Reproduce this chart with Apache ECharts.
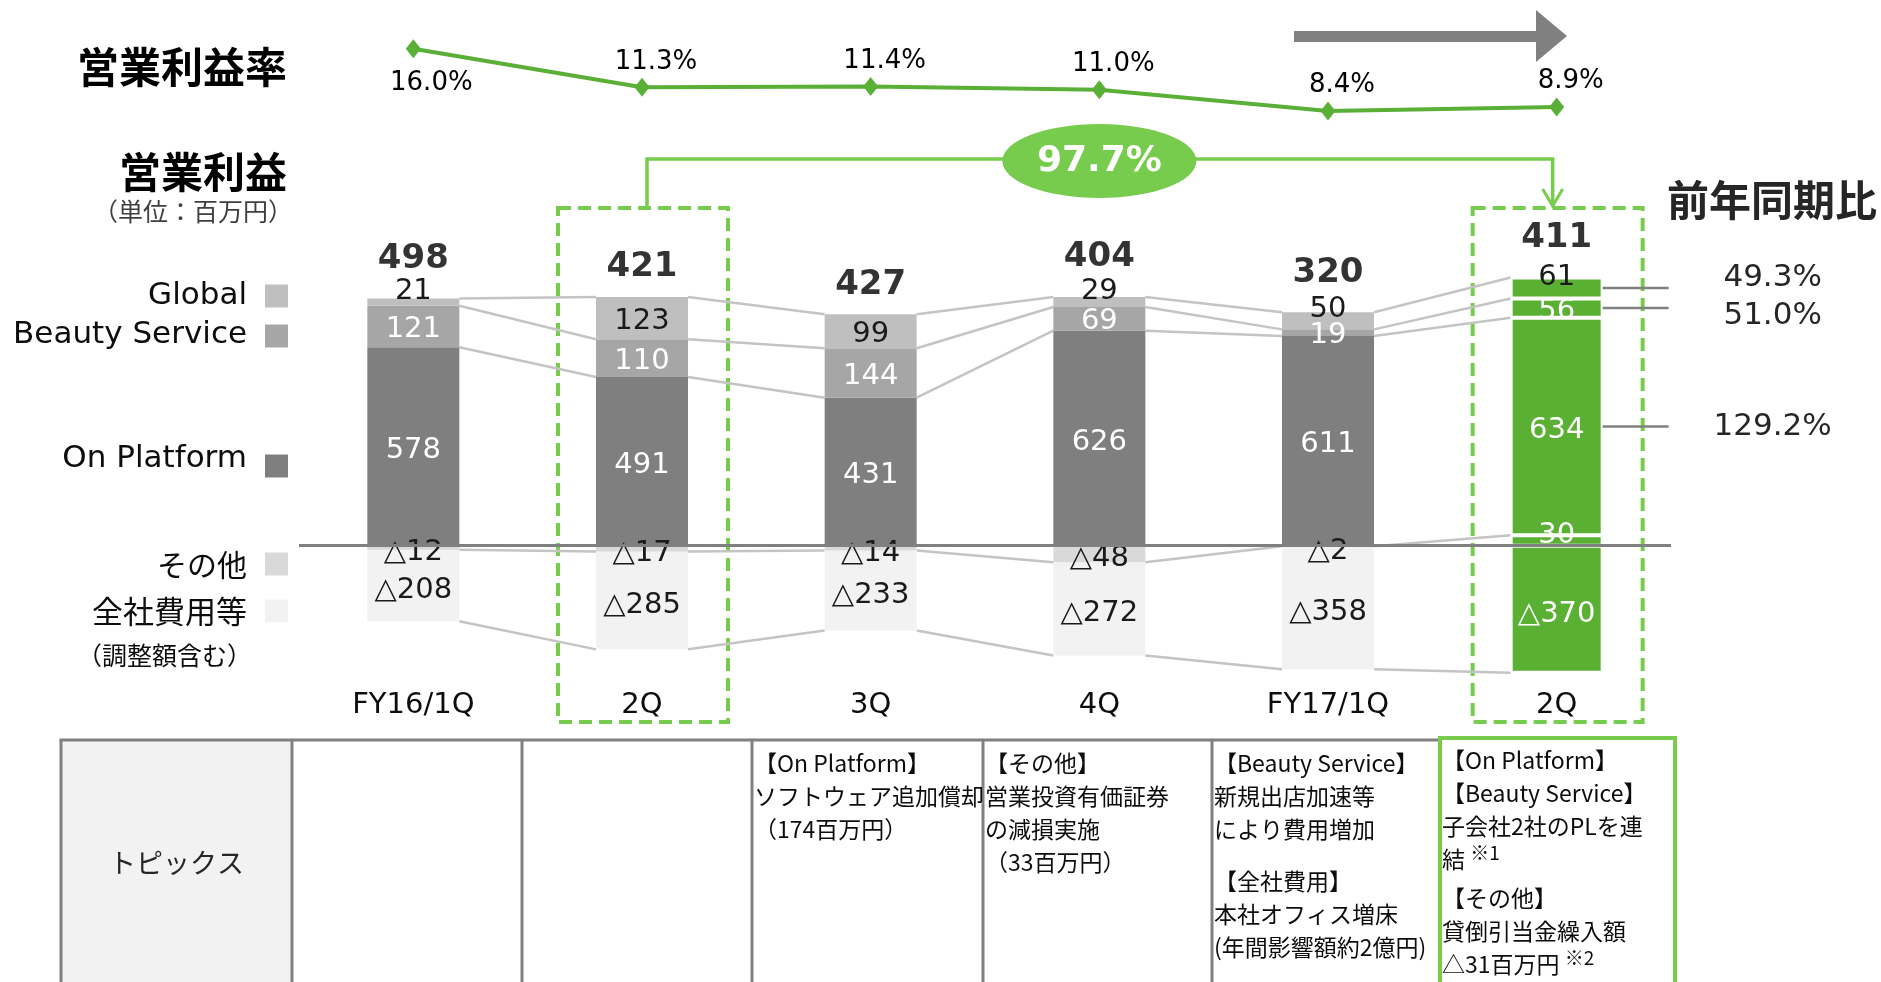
<!DOCTYPE html>
<html>
<head>
<meta charset="utf-8">
<script src="https://cdn.jsdelivr.net/npm/echarts@6/dist/echarts.min.js"></script>
<style>
html, body { margin: 0; padding: 0; background: #fff; }
#chart { width: 1881px; height: 982px; }
</style>
</head>
<body>
<div id="chart"></div>
<script>
// ---- data ----
var quarters = ['FY16/1Q', '2Q', '3Q', '4Q', 'FY17/1Q', '2Q'];
var marginRate = [16.0, 11.3, 11.4, 11.0, 8.4, 8.9];
var globalVals = [21, 123, 99, 29, 50, 61];
var beautyVals = [121, 110, 144, 69, 19, 56];
var platformVals = [578, 491, 431, 626, 611, 634];
var otherVals = [-12, -17, -14, -48, -2, 30];
var corpVals = [-208, -285, -233, -272, -358, -370];
var totalVals = [498, 421, 427, 404, 320, 411];
var yoyLabels = ['49.3%', '51.0%', '129.2%']; // Global, Beauty Service, On Platform
var yoyTotal = '97.7%';
var seriesNames = ['Global', 'Beauty Service', 'On Platform', 'その他', '全社費用等'];
var topicHeader = 'トピックス';
var topicCells = [
    [],
    [],
    [],
    [['【On Platform】', 'ソフトウェア追加償却', '（174百万円）']],
    [['【その他】', '営業投資有価証券', 'の減損実施', '（33百万円）']],
    [['【Beauty Service】', '新規出店加速等', 'により費用増加'], ['【全社費用】', '本社オフィス増床', '(年間影響額約2億円)']],
    [['【On Platform】', '【Beauty Service】', '子会社2社のPLを連', '結 {sup|※1}'], ['【その他】', '貸倒引当金繰入額', '△31百万円 {sup|※2}']]
];

// ---- style ----
var latin = "'DejaVu Sans', 'Noto Sans CJK JP', sans-serif";
var jp = "'Noto Sans CJK JP', sans-serif";
var colGlobal = '#bfbfbf', colBeauty = '#a6a6a6', colPlatform = '#7f7f7f', colOther = '#d9d9d9', colCorp = '#f2f2f2';
var green = '#5ab033', lightGreen = '#77cc4e', lineGreen = '#5aaf36';
var barW = 92;
var hl = quarters.length - 1;   // latest quarter, drawn in green
var prevHl = 1;                 // same quarter a year earlier

function tri(v) { return v < 0 ? '△' + Math.abs(v) : String(v); }
function posBase(i) { return Math.max(otherVals[i], 0); }
function bounds(i) {
    var b3 = posBase(i) + platformVals[i];
    var b2 = b3 + beautyVals[i];
    var b1 = b2 + globalVals[i];
    return [b1, b2, b3, otherVals[i], Math.min(otherVals[i], 0) + corpVals[i]];
}

function barSeries(name, vals, color, labelColor, hlLabelColor, dy, lift) {
    return {
        name: name, type: 'bar', stack: 'op', xAxisIndex: 0, yAxisIndex: 0,
        barWidth: barW, z: 2,
        itemStyle: { color: color },
        label: {
            show: true, position: 'inside', color: labelColor,
            fontSize: 29, fontFamily: latin, offset: [0, dy],
            formatter: function (p) { return tri(p.value); }
        },
        data: vals.map(function (v, i) {
            var item = { value: v, label: {} };
            if (i === hl) {
                item.itemStyle = { color: green, borderColor: '#fff', borderWidth: 2 };
                item.label.color = hlLabelColor;
            }
            if (lift && v < 70) item.label.offset = [0, -11];
            return item;
        })
    };
}

var chart = echarts.init(document.getElementById('chart'));

var otherSeries = barSeries(seriesNames[3], otherVals, colOther, '#1a1a1a', '#fff', 5);
otherSeries.z = 3;
otherSeries.data[hl].label.offset = [0, -5];
otherSeries.markLine = {
    silent: true, symbol: ['none', 'none'], z: 6,
    label: { show: false },
    lineStyle: { color: '#808080', width: 3, type: 'solid' },
    data: [{ yAxis: 0 }]
};

var option = {
    animation: false,
    grid: [
        { left: 299, width: 1372, top: 271, height: 412 },
        { left: 299, width: 1372, top: 20, height: 160 }
    ],
    xAxis: [
        {
            type: 'category', gridIndex: 0, data: quarters,
            axisLine: { show: false }, axisTick: { show: false },
            axisLabel: { fontSize: 29, color: '#0d0d0d', fontFamily: latin, margin: 8 }
        },
        { type: 'category', gridIndex: 1, data: quarters, show: false }
    ],
    yAxis: [
        { type: 'value', gridIndex: 0, min: -400, max: 800, show: false },
        { type: 'value', gridIndex: 1, min: 0, max: 19.5, show: false }
    ],
    series: [
        otherSeries,
        barSeries(seriesNames[4], corpVals, colCorp, '#1a1a1a', '#fff', 5),
        barSeries(seriesNames[2], platformVals, colPlatform, '#fff', '#fff', 4),
        barSeries(seriesNames[1], beautyVals, colBeauty, '#fff', '#fff', 3),
        barSeries(seriesNames[0], globalVals, colGlobal, '#1a1a1a', '#1a1a1a', 3, true),
        {
            // connectors between neighbouring bars
            type: 'custom', xAxisIndex: 0, yAxisIndex: 0, z: 1, silent: true,
            data: quarters.slice(0, -1).map(function (q, i) { return [i, 0]; }),
            encode: { x: 0, y: 1 },
            renderItem: function (params, api) {
                var i = params.dataIndex;
                var a = bounds(i), b = bounds(i + 1);
                var kids = [];
                for (var k = 0; k < a.length; k++) {
                    var p1 = api.coord([i, a[k]]), p2 = api.coord([i + 1, b[k]]);
                    kids.push({
                        type: 'line',
                        shape: { x1: p1[0] + barW / 2, y1: p1[1], x2: p2[0] - barW / 2, y2: p2[1] },
                        style: { stroke: '#c4c4c4', lineWidth: 2.5 }
                    });
                }
                return { type: 'group', children: kids };
            }
        },
        {
            // year-on-year ratios beside the latest bar
            type: 'custom', xAxisIndex: 0, yAxisIndex: 0, z: 3, silent: true,
            data: [[hl, 0]],
            encode: { x: 0, y: 1 },
            renderItem: function (params, api) {
                var i = hl, b = bounds(i);
                var mids = [b[0] - globalVals[i] / 2, b[2] + beautyVals[i] / 2, posBase(i) + platformVals[i] / 2];
                var textShift = [-10, 8, 0];
                var cx = api.coord([i, 0])[0];
                var kids = [];
                mids.forEach(function (m, k) {
                    var y = api.coord([i, m])[1];
                    kids.push({
                        type: 'line',
                        shape: { x1: cx + barW / 2, y1: y, x2: cx + barW / 2 + 66, y2: y },
                        style: { stroke: '#808080', lineWidth: 2.5 }
                    });
                    kids.push({
                        type: 'text',
                        style: {
                            text: yoyLabels[k], x: cx + 216, y: y + textShift[k],
                            fill: '#262626', fontSize: 31, fontFamily: latin,
                            align: 'center', verticalAlign: 'middle',
                            textAlign: 'center', textVerticalAlign: 'middle'
                        }
                    });
                });
                return { type: 'group', children: kids };
            }
        },
        {
            // quarterly totals above each bar
            type: 'scatter', xAxisIndex: 0, yAxisIndex: 0, z: 4, silent: true,
            symbolSize: 1, itemStyle: { color: 'transparent' },
            label: {
                show: true, position: 'top', color: '#000',
                fontSize: 34, fontWeight: 'bold', fontFamily: latin,
                formatter: function (p) { return String(totalVals[p.dataIndex]); }
            },
            data: totalVals.map(function (t, i) {
                return { value: [i, bounds(i)[0]], label: { distance: globalVals[i] < 70 ? 22 : 12 } };
            })
        },
        {
            name: '営業利益率', type: 'line', xAxisIndex: 1, yAxisIndex: 1,
            symbol: 'diamond', symbolSize: [15, 19],
            lineStyle: { color: lineGreen, width: 4 },
            itemStyle: { color: lineGreen },
            label: {
                show: true, position: 'top', distance: 3, offset: [14, 0],
                color: '#000', fontSize: 26, fontFamily: latin,
                formatter: function (p) { return p.value.toFixed(1) + '%'; }
            },
            data: marginRate.map(function (v, i) {
                return i === 0 ? { value: v, label: { position: 'bottom', distance: 12, offset: [18, 0] } } : v;
            })
        }
    ]
};
chart.setOption(option);

// ---- annotations ----
function txt(text, x, y, font, fill, align) {
    return {
        type: 'text', silent: true,
        style: {
            text: text, x: x, y: y, font: font, fill: fill,
            align: align || 'left', verticalAlign: 'middle',
            textAlign: align || 'left', textVerticalAlign: 'middle'
        }
    };
}
var g = [];
var cxPrev = chart.convertToPixel({ xAxisIndex: 0 }, prevHl);
var cxHl = chart.convertToPixel({ xAxisIndex: 0 }, hl);
var cxMid = chart.convertToPixel({ xAxisIndex: 0 }, 3);

g.push(txt('営業利益率', 287, 67, "bold 42px 'Noto Sans CJK JP'", '#000', 'right'));
g.push(txt('営業利益', 287, 172, "bold 42px 'Noto Sans CJK JP'", '#000', 'right'));
g.push(txt('（単位：百万円）', 293, 211, "25px 'Noto Sans CJK JP'", '#404040', 'right'));
g.push(txt('前年同期比', 1667, 200, "bold 42px 'Noto Sans CJK JP'", '#262626', 'left'));

// legend (labels left of the bars)
var legendRows = [
    [seriesNames[0], colGlobal, 296, 296, '31px ' + latin],
    [seriesNames[1], colBeauty, 335, 336, '31px ' + latin],
    [seriesNames[2], colPlatform, 459, 466, '31px ' + latin],
    [seriesNames[3], colOther, 565, 564, '30px ' + jp],
    [seriesNames[4], colCorp, 611, 611, '31px ' + jp]
];
legendRows.forEach(function (r) {
    g.push(txt(r[0], 247, r[2], r[4], '#0d0d0d', 'right'));
    g.push({ type: 'rect', silent: true, shape: { x: 265, y: r[3] - 11.5, width: 23, height: 23 }, style: { fill: r[1] } });
});
g.push(txt('（調整額含む）', 252, 655, "25px 'Noto Sans CJK JP'", '#0d0d0d', 'right'));

// grey trend arrow
g.push({
    type: 'polygon', silent: true,
    shape: { points: [[1294, 31], [1536, 31], [1536, 10], [1567, 36], [1536, 62], [1536, 42], [1294, 42]] },
    style: { fill: '#808080' }
});

// dashed highlight boxes
[cxPrev, cxHl].forEach(function (cx) {
    g.push({
        type: 'rect', silent: true,
        shape: { x: cx - 84, y: 208, width: 170, height: 514 },
        style: { fill: null, stroke: lightGreen, lineWidth: 4, lineDash: [13, 7] }
    });
});

// bracket with growth ellipse
g.push({
    type: 'polyline', silent: true,
    shape: { points: [[cxPrev + 5, 208], [cxPrev + 5, 159], [cxHl - 4, 159], [cxHl - 4, 205]] },
    style: { stroke: lightGreen, lineWidth: 3.5, fill: null }
});
g.push({
    type: 'polyline', silent: true,
    shape: { points: [[cxHl - 14, 189], [cxHl - 4, 206], [cxHl + 6, 189]] },
    style: { stroke: lightGreen, lineWidth: 3, fill: null }
});
g.push({ type: 'ellipse', silent: true, shape: { cx: cxMid, cy: 161, rx: 97, ry: 37 }, style: { fill: lightGreen } });
g.push(txt(yoyTotal, cxMid, 162, "bold 36px 'DejaVu Sans'", '#fff', 'center'));

// topics table
var colX = [61, 292, 522, 752, 983, 1212, 1440, 1675];
var tTop = 740, tBot = 985;
g.push({ type: 'rect', silent: true, shape: { x: colX[0], y: tTop, width: colX[1] - colX[0], height: tBot - tTop }, style: { fill: '#f2f2f2' } });
g.push({ type: 'line', silent: true, shape: { x1: colX[0] - 1.5, y1: tTop, x2: colX[6], y2: tTop }, style: { stroke: '#808080', lineWidth: 3 } });
for (var c = 0; c < 7; c++) {
    g.push({ type: 'line', silent: true, shape: { x1: colX[c], y1: tTop, x2: colX[c], y2: tBot }, style: { stroke: '#808080', lineWidth: 3 } });
}
g.push({
    type: 'rect', silent: true,
    shape: { x: colX[6], y: 738, width: colX[7] - colX[6], height: 260 },
    style: { fill: null, stroke: lightGreen, lineWidth: 4 }
});
g.push(txt(topicHeader, (colX[0] + colX[1]) / 2, 863, "27px 'Noto Sans CJK JP'", '#262626', 'center'));

var blockGap = [0, 0, 0, 0, 0, 19, 6];
topicCells.forEach(function (blocks, c) {
    var y = c === 6 ? 760 : 763;
    blocks.forEach(function (lines, bi) {
        if (bi > 0) y += blockGap[c];
        lines.forEach(function (line) {
            g.push({
                type: 'text', silent: true,
                style: {
                    text: line, x: colX[c] + 2, y: y,
                    fontSize: 23, fontFamily: jp, fill: '#0d0d0d',
                    align: 'left', verticalAlign: 'middle',
                    textAlign: 'left', textVerticalAlign: 'middle',
                    rich: { sup: { fontSize: 19, fontFamily: jp, fill: '#0d0d0d', padding: [0, 0, 12, 0] } }
                }
            });
            y += 33;
        });
    });
});

chart.setOption({ graphic: g });
</script>
</body>
</html>
